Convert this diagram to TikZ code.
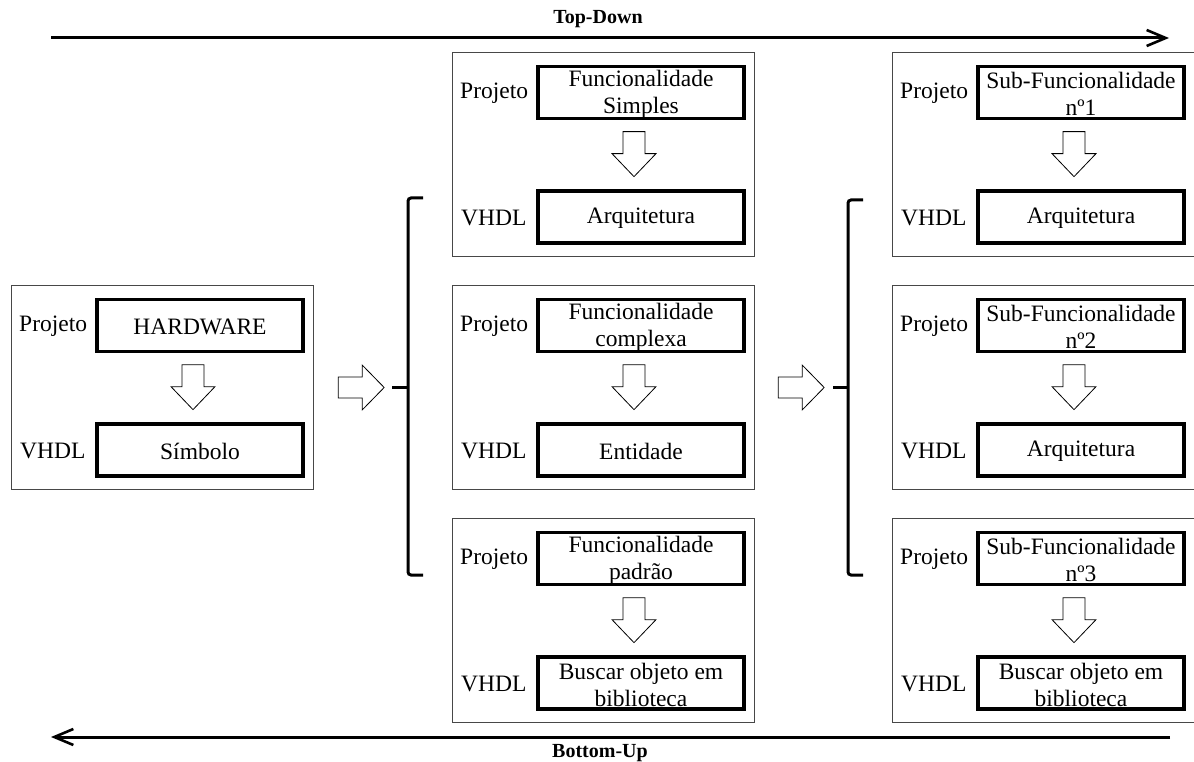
\documentclass[tikz,border=0pt]{standalone}
\usepackage{fontspec}
\setmainfont{Liberation Serif}
\usetikzlibrary{calc,arrows.meta}

\tikzset{
  panelbox/.style={draw=black!72, line width=1.3pt, minimum width=302pt, minimum height=204pt, inner sep=0pt},
  stagebox/.style={draw=black, line width=3.3pt, minimum width=206pt, minimum height=52pt, inner sep=0pt,
                   align=center, font=\fontsize{23.5}{27}\selectfont},
  stagetext/.style={inner sep=0pt, align=center, font=\fontsize{23.5}{27}\selectfont},
  sidelabel/.style={anchor=west, inner sep=0pt, font=\fontsize{23.5}{27}\selectfont},
  dirlabel/.style={inner sep=0pt, font=\fontsize{20}{24}\selectfont\bfseries},
  blockarrow/.style={draw=black, line width=0.8pt, fill=white, line join=miter},
  flowline/.style={line width=3pt, -{Straight Barb[length=19pt, width=16pt, line width=2.6pt]}},
  bracket/.style={line width=3pt, rounded corners=3pt},
  downblock/.pic={\draw[blockarrow] (-11,0) -- (11,0) -- (11,22) -- (22,22) -- (0,45) -- (-22,22) -- (-11,22) -- cycle;},
  rightblock/.pic={\draw[blockarrow] (0,-10.5) -- (24,-10.5) -- (24,-22.5) -- (46,0) -- (24,22.5) -- (24,10.5) -- (0,10.5) -- cycle;}
}

% One design panel: outer frame, "Projeto" and "VHDL" stages, and the refinement arrow between them
% #1 name, #2 left x, #3 top y, #4 project text, #5 VHDL text
\newcommand\mkpanel[5]{%
  \node[panelbox] (#1) at (#2+151.5, #3+102.5) {};
  \node[stagebox] (#1-p) at (#2+189, #3+40.5) {};
  \node[stagebox] (#1-v) at (#2+189, #3+165) {};
  \node[stagetext] (#1-pt) at ($(#1-p.center)+(0,1.5)$) {#4};
  \node[stagetext] (#1-vt) at ($(#1-v.center)+(0,1.5)$) {#5};
  \node[sidelabel] (#1-pl) at (#2+8, #3+41.5) {Projeto};
  \node[sidelabel] (#1-vl) at (#2+9, #3+166) {VHDL};
  \pic at ($(#1-p.south)+(-7,11.5)$) {downblock};
}

\begin{document}
\begin{tikzpicture}[x=1pt, y=-1pt]
  \useasboundingbox (0,0) rectangle (1194,762);

  % direction arrows
  \coordinate (tdL) at (51,38);
  \coordinate (tdR) at (1169,38);
  \coordinate (buR) at (1170,737);
  \coordinate (buL) at (51,737);
  \draw[flowline] (tdL) -- (tdR);
  \draw[flowline] (buR) -- (buL);
  \node[dirlabel] (td) at (598,19.5) {Top-Down};
  \node[dirlabel] (bu) at (600,753.5) {Bottom-Up};

  % level 0
  \mkpanel{hw}{11}{285}{HARDWARE}{Símbolo}

  % level 1
  \mkpanel{fs}{452}{52}{Funcionalidade\\Simples}{Arquitetura}
  \mkpanel{fc}{452}{285}{Funcionalidade\\complexa}{Entidade}
  \mkpanel{fp}{452}{518}{Funcionalidade\\padrão}{Buscar objeto em\\biblioteca}

  % level 2
  \mkpanel{s1}{892}{52}{Sub-Funcionalidade\\nº1}{Arquitetura}
  \mkpanel{s2}{892}{285}{Sub-Funcionalidade\\nº2}{Arquitetura}
  \mkpanel{s3}{892}{518}{Sub-Funcionalidade\\nº3}{Buscar objeto em\\biblioteca}

  % decomposition arrows and brackets
  \pic at ($(hw.east)+(24,0)$) {rightblock};
  \pic at ($(fc.east)+(23,0)$) {rightblock};

  \coordinate (b1t) at (423,198);
  \coordinate (b1b) at (423,575);
  \coordinate (b1m) at (392,387);
  \draw[bracket] (b1t) -- (408,198) -- (408,575) -- (b1b);
  \draw[line width=3pt] (b1m) -- (408,387);

  \coordinate (b2t) at (863,200);
  \coordinate (b2b) at (863,575);
  \coordinate (b2m) at (833,387);
  \draw[bracket] (b2t) -- (848,200) -- (848,575) -- (b2b);
  \draw[line width=3pt] (b2m) -- (848,387);
\end{tikzpicture}
\end{document}
